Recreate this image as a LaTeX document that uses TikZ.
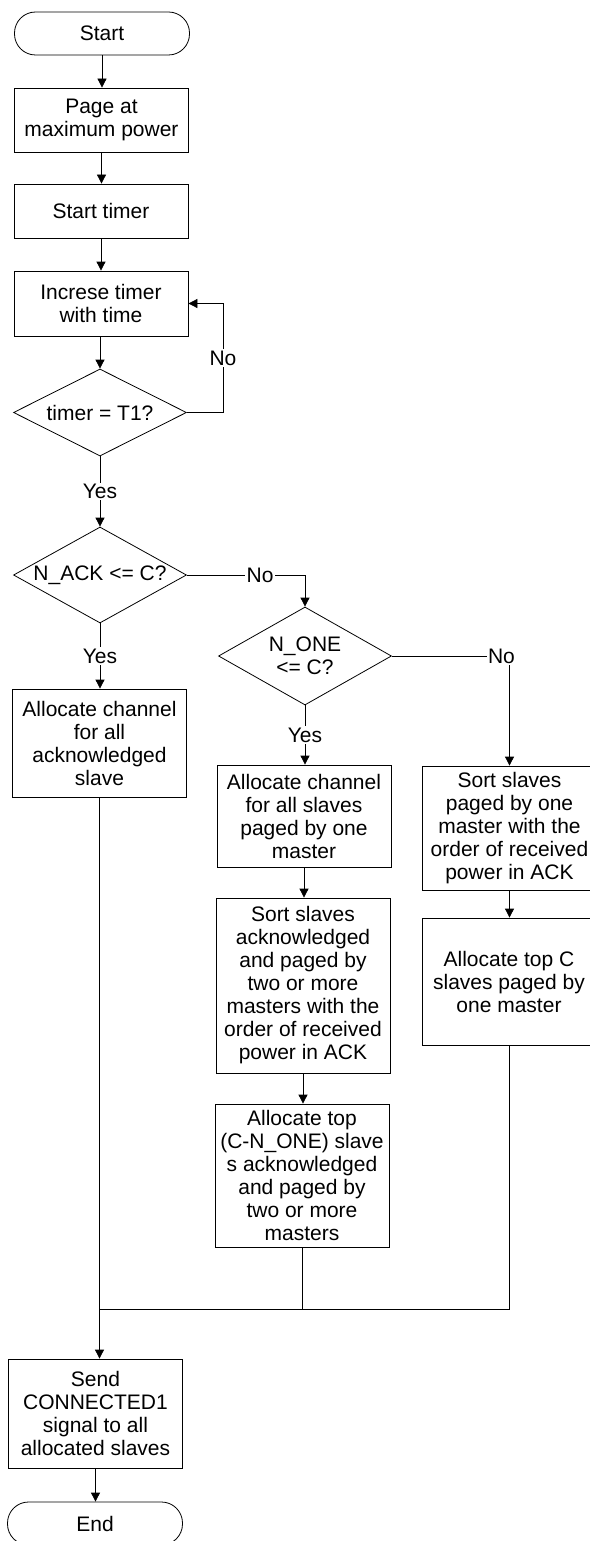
\documentclass[tikz,border=0pt]{standalone}
\usepackage{fontspec}
\setmainfont{Liberation Sans}
\usetikzlibrary{shapes.geometric,arrows.meta}
\begin{document}
\begin{tikzpicture}[x=1pt,y=-1pt,line width=0.8pt,
  font=\fontsize{21pt}{23pt}\selectfont,
  termnode/.style={draw,rectangle,rounded corners=21pt,minimum width=175pt,minimum height=43pt,inner sep=1pt},
  boxnode/.style={draw,rectangle,align=center,minimum width=174pt,inner sep=1pt},
  decnode/.style={draw,diamond,aspect=2,align=center,minimum width=173pt,inner sep=0pt},
  lbl/.style={fill=white,inner sep=1.5pt},
  arr/.style={-{Triangle[length=9pt,width=9pt]}}]
\useasboundingbox (0,0) rectangle (589,1541);
\node[termnode] (start) at (102,33.5) {Start};
\node[boxnode,minimum height=64pt] (page) at (101.5,120) {Page at\\maximum power};
\node[boxnode,minimum height=54pt] (timer) at (101,211) {Start timer};
\node[boxnode,minimum height=65pt] (incr) at (101,303.5) {Increse timer\\with time};
\node[decnode,minimum height=87pt] (t1) at (100,412.5) {timer = T1?};
\node[decnode,minimum height=96pt] (nack) at (100,575) {N\_ACK <= C?};
\node[decnode,minimum height=98pt] (none) at (305,656) {N\_ONE\\<= C?};
\node[boxnode,minimum height=108pt] (allack) at (99.5,743) {Allocate channel\\for all\\acknowledged\\slave};
\node[boxnode,minimum height=102pt] (allone) at (304,816) {Allocate channel\\for all slaves\\paged by one\\master};
\node[boxnode,minimum height=175pt] (sorttwo) at (303,985.5) {Sort slaves\\acknowledged\\and paged by\\two or more\\masters with the\\order of received\\power in ACK};
\node[boxnode,minimum height=143pt] (toptwo) at (302,1175.5) {Allocate top\\(C-N\_ONE) slave\\s acknowledged\\and paged by\\two or more\\masters};
\node[boxnode,minimum height=124pt] (sortone) at (509.5,828) {Sort slaves\\paged by one\\master with the\\order of received\\power in ACK};
\node[boxnode,minimum height=127pt] (topone) at (509,981.5) {Allocate top C\\slaves paged by\\one master};
\node[boxnode,minimum height=109pt] (send) at (95.5,1413.5) {Send\\CONNECTED1\\signal to all\\allocated slaves};
\node[termnode] (end) at (95,1523.5) {End};
\coordinate (loop) at (223,0);
\coordinate (mergeline) at (0,1309);
\draw[arr] (start.south) -- (start.south |- page.north);
\draw[arr] (page.south) -- (page.south |- timer.north);
\draw[arr] (timer.south) -- (timer.south |- incr.north);
\draw[arr] (incr.south) -- (incr.south -| t1.north) -- (t1.north);
\draw[arr] (t1.east) -- (t1.east -| loop) -- node[lbl]{No} (incr.east -| loop) -- (incr.east);
\draw[arr] (t1.south) -- node[lbl]{Yes} (nack.north);
\draw[arr] (nack.south) -- node[lbl]{Yes} (nack.south |- allack.north);
\draw[arr] (nack.east) -- node[lbl,pos=0.62]{No} (nack.east -| none.north) -- (none.north);
\draw[arr] (none.south) -- node[lbl]{Yes} (none.south |- allone.north);
\draw[arr] (none.east) -- (none.east -| sortone.north) node[lbl,xshift=-8pt]{No} -- (sortone.north);
\draw[arr] (allone.south) -- (allone.south |- sorttwo.north);
\draw[arr] (sorttwo.south) -- (sorttwo.south |- toptwo.north);
\draw[arr] (sortone.south) -- (sortone.south |- topone.north);
\draw (allack.south) -- (allack.south |- mergeline);
\draw (toptwo.south) -- (toptwo.south |- mergeline);
\draw (topone.south) -- (topone.south |- mergeline) -- (allack.south |- mergeline);
\draw[arr] (allack.south |- mergeline) -- (allack.south |- send.north);
\draw[arr] (send.south) -- (send.south |- end.north);
\end{tikzpicture}
\end{document}
